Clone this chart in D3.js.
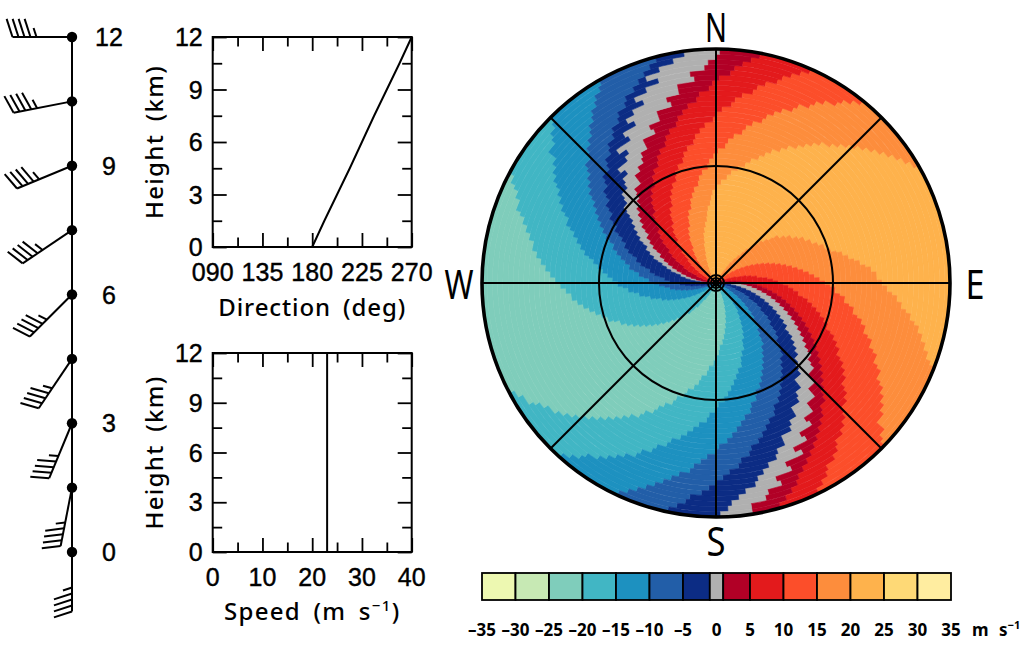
<!DOCTYPE html>
<html><head><meta charset="utf-8">
<script src="https://cdn.jsdelivr.net/npm/d3@7"></script>
<style>html,body{margin:0;padding:0;background:#fff}svg{display:block}text{fill:#000}</style>
</head><body><div id="chart"></div>
<script>
// ---------- profile data ----------
const heightKm = [0, 1.5, 3, 4.5, 6, 7.5, 9, 10.5, 12];
const directionDeg = [180, 191, 202.5, 214, 225, 236, 247.5, 259, 270];
const speedMs = [23, 23, 23, 23, 23, 23, 23, 23, 23];
const heightTicks = [0, 3, 6, 9, 12];
const heightMinor = [1.5, 4.5, 7.5, 10.5];
const dirTicks = [90, 135, 180, 225, 270];
const dirMinor = [112.5, 157.5, 202.5, 247.5];
const speedTicks = [0, 10, 20, 30, 40];
const speedMinor = [5, 15, 25, 35];
// ---------- colour key ----------
const levels = [-35,-30,-25,-20,-15,-10,-5,-1,1,5,10,15,20,25,30,35];
const levelLabels = [-35,-30,-25,-20,-15,-10,-5,0,5,10,15,20,25,30,35];
const levelColors = ["#edf8b1","#c7e9b4","#7fcdbb","#41b6c4","#1d91c0","#225ea8","#0c2c84","#b0b0b0","#b10026","#e31a1c","#fc4e2a","#fd8d3c","#feb24c","#fed976","#ffeda0"];
// ---------- radial velocity: azimuth (deg, clockwise from N) of each isodop, one value per range ring ----------
const edgeGrayN0 = [269,271,273,275,276,278,280,283,284,286,288,290,291,293,295,298,299,301,303,305,307,308,309,312,313,317,318,321,319,324,326,323,329,328,333,331,334,338,336,340,344,341,345,349,352];
const edgeGrayN1 = [273,275,277,279,281,283,285,287,289,291,293,295,298,299,301,303,306,307,309,311,313,316,318,319,323,323,326,329,330,333,333,338,337,341,341,346,345,349,349,354,353,357,358,360,361];
const edgePos5a  = [283,285,287,289,292,293,295,298,299,301,303,306,307,309,311,314,315,317,320,321,323,325,328,329,331,334,335,337,340,341,343,346,347,349,351,354,355,358,359,361,364,365,367,369,371];
const edgePos10a = [296,298,301,302,304,306,308,311,312,314,316,319,320,322,325,326,328,331,332,334,336,339,340,342,345,346,348,351,352,354,356,359,360,362,365,366,368,371,372,374,377,378,380,382,384];
const edgePos15a = [311,313,315,317,320,321,323,325,328,329,331,333,336,337,339,342,343,345,347,350,351,353,356,357,359,361,364,365,367,370,371,373,376,377,379,381,384,385,388,389,391,394,395,397,399];
const edgePos20a = [330,332,334,336,338,340,342,343,345,346,348,350,352,353,354,356,357,358,360,363,366,368,371,374,376,379,381,383,386,388,391,393,395,397,400,402,404,406,408,410,412,414,416,418,420];
const edgePos20b = [389,390,392,394,395,397,399,401,402,404,406,407,409,411,412,415,417,420,422,425,428,430,433,435,436,438,440,441,443,444,446,449,451,453,454,456,458,459,461,462,464,466,468,470,471];
const edgePos15b = [409,411,413,415,417,419,421,423,425,427,429,431,433,435,437,439,441,443,445,447,449,451,452,455,456,459,460,463,464,466,469,470,473,474,477,478,481,482,484,486,488,491,491,493,494];
const edgePos10b = [426,428,430,432,435,436,438,440,443,444,446,448,451,452,454,456,459,460,462,464,466,468,470,473,474,476,478,481,482,484,486,489,490,492,495,496,498,500,503,504,506,509,510,512,514];
const edgePos5b  = [438,440,442,444,446,448,450,452,454,456,458,460,462,464,466,468,470,472,474,476,478,480,482,484,486,488,490,492,494,496,497,500,501,503,505,507,509,511,513,515,517,518,520,522,524];
const edgeGrayS0 = [444,446,448,450,452,454,456,458,460,462,464,466,468,470,472,474,476,478,480,482,484,486,487,490,491,495,495,499,499,503,503,507,506,511,510,515,513,519,518,523,522,526,527,531,531];
const edgeGrayS1 = [451,453,455,457,459,461,463,465,467,469,471,473,475,477,479,481,484,485,487,489,491,494,496,497,501,501,504,505,509,509,512,513,517,517,520,521,524,526,528,529,532,534,536,537,539];
const edgeNeg5a  = [461,464,465,467,470,471,473,476,477,479,482,483,485,488,489,491,494,495,497,500,502,504,506,508,510,512,515,516,519,521,523,525,528,529,532,533,536,538,540,542,544,547,548,550,552];
const edgeNeg10a = [474,476,478,480,482,484,486,488,490,492,494,496,499,501,502,505,507,509,511,513,515,517,520,521,524,525,528,530,532,534,536,539,540,543,545,547,548,551,553,555,557,559,561,563,565];
const edgeNeg15a = [490,493,494,497,499,501,502,505,507,509,511,513,516,517,520,522,523,526,528,530,532,534,536,539,540,543,544,547,549,551,553,556,557,560,561,564,565,568,570,572,574,577,578,580,582];
const edgeNeg20a = [512,514,516,518,520,522,524,526,528,530,532,534,537,538,541,542,545,546,549,550,552,555,556,559,560,563,565,566,569,570,573,575,577,579,581,583,585,587,589,591,594,596,597,600,602];
const edgeNeg20b = [567,569,571,573,576,577,580,581,584,585,588,590,592,594,596,598,600,602,604,606,609,610,613,615,617,619,621,623,626,628,630,632,634,636,638,640,643,645,647,649,650,653,655,656,658];
const edgeNeg15b = [592,594,596,598,600,602,604,606,608,610,612,615,616,619,620,623,624,627,628,631,633,635,637,639,641,642,644,646,648,650,651,654,655,657,659,661,662,664,666,668,668,671,672,674,675];
const edgeNeg10b = [606,608,610,612,614,616,618,620,622,625,627,629,631,634,635,638,639,642,644,646,648,651,652,654,656,658,660,662,664,665,667,669,671,672,675,676,678,680,681,683,684,686,687,689,690];
const edgeNeg5b  = [616,617,619,622,623,625,627,630,631,633,636,637,639,642,643,645,648,649,651,654,656,657,660,661,664,665,668,669,672,673,677,678,681,682,685,686,689,690,693,694,697,699,701,703,705];
const isodops = [edgeGrayN0,edgeGrayN1,edgePos5a,edgePos10a,edgePos15a,edgePos20a,edgePos20b,edgePos15b,edgePos10b,edgePos5b,edgeGrayS0,edgeGrayS1,edgeNeg5a,edgeNeg10a,edgeNeg15a,edgeNeg20a,edgeNeg20b,edgeNeg15b,edgeNeg10b,edgeNeg5b];
// colour index of the sector that starts at each isodop, going clockwise
const sectorColor = [7,8,9,10,11,12,11,10,9,8,7,6,5,4,3,2,3,4,5,6];

const W=1024,H=645;
const svg=d3.select("#chart").append("svg").attr("width",W).attr("height",H).attr("viewBox",`0 0 ${W} ${H}`);
const numFont="'Liberation Sans',sans-serif", titleFont="'Noto Sans',sans-serif";
const numStyle=s=>s.style("font",`25px ${numFont}`).style("stroke","#000").style("stroke-width","0.4px");

// ---------- wind barbs ----------
const yWind=d3.scaleLinear([0,12],[552,37]);
const xWind=72, staff=59.5, spacing=6, fullBarb=19, tilt=72*Math.PI/180;
const gW=svg.append("g").attr("fill","none").attr("stroke","#000").attr("stroke-width",2);
gW.append("line").attr("x1",xWind).attr("x2",xWind).attr("y1",yWind(12)).attr("y2",yWind(0));
heightKm.forEach((h,i)=>{
  const a=directionDeg[i]*Math.PI/180, ux=Math.sin(a), uy=-Math.cos(a);
  const x0=xWind,y0=yWind(h),tx=x0+staff*ux,ty=y0+staff*uy;
  gW.append("line").attr("x1",x0).attr("y1",y0).attr("x2",tx).attr("y2",ty);
  const bx=ux*Math.cos(tilt)-uy*Math.sin(tilt), by=ux*Math.sin(tilt)+uy*Math.cos(tilt);
  const full=Math.floor(speedMs[i]/5), half=(speedMs[i]%5)>=2.5?1:0;
  d3.range(full+half).forEach(k=>{
    const len=k<full?fullBarb:fullBarb/2, sx=tx-ux*k*spacing, sy=ty-uy*k*spacing;
    gW.append("line").attr("x1",sx).attr("y1",sy).attr("x2",sx+bx*len).attr("y2",sy+by*len);
  });
  svg.append("circle").attr("cx",x0).attr("cy",y0).attr("r",5.2).attr("fill","#000");
});
svg.append("g").selectAll("text").data(heightTicks).join("text")
  .attr("x",109).attr("y",d=>yWind(d)+9).attr("text-anchor","middle").call(numStyle).text(d=>d);

// ---------- line panels ----------
function panel(opts){
  const {x,y,xMajor,xMinor,xVals,xFmt,xTitle,titleY,tickY,titleSpacing}=opts;
  const g=svg.append("g");
  const [x0,x1]=x.range(), [y0,y1]=y.range();
  const ax=(gen,tx,ty,size,vals)=>{
    const s=g.append("g").attr("transform",`translate(${tx},${ty})`).call(gen.tickValues(vals).tickSize(size).tickFormat(""));
    s.select(".domain").remove();
    s.selectAll("line").attr("stroke","#000").attr("stroke-width",1.8);
    s.selectAll("text").remove();
  };
  [[xMajor,14],[xMinor,9.5]].forEach(([v,l])=>{
    ax(d3.axisBottom(x),0,y0,-l,v); ax(d3.axisTop(x),0,y1,-l,v);
  });
  [[heightTicks,14],[heightMinor,9.5]].forEach(([v,l])=>{
    ax(d3.axisLeft(y),x0,0,-l,v); ax(d3.axisRight(y),x1,0,-l,v);
  });
  g.append("rect").attr("x",x0).attr("y",y1).attr("width",x1-x0).attr("height",y0-y1).attr("fill","none").attr("stroke","#000").attr("stroke-width",2);
  g.append("path").datum(heightKm).attr("fill","none").attr("stroke","#000").attr("stroke-width",2)
    .attr("d",d3.line().x((d,i)=>x(xVals[i])).y(d=>y(d)));
  g.selectAll(".yl").data(heightTicks).join("text").attr("x",x0-10).attr("y",d=>y(d)+9).attr("text-anchor","end").call(numStyle).text(d=>d);
  g.selectAll(".xl").data(xMajor).join("text").attr("x",d=>x(d)).attr("y",tickY).attr("text-anchor","middle").call(numStyle).text(xFmt);
  g.append("text").attr("transform",`translate(163,${(y0+y1)/2}) rotate(-90)`).attr("text-anchor","middle")
    .style("font",`500 24px ${titleFont}`).style("letter-spacing","1.3px").style("word-spacing","5px").text("Height (km)");
  const t=g.append("text").attr("x",(x0+x1)/2).attr("y",titleY).attr("text-anchor","middle")
    .style("font",`500 24px ${titleFont}`).style("letter-spacing",titleSpacing).style("word-spacing","5px");
  xTitle(t);
}
panel({x:d3.scaleLinear([90,270],[212.7,411.7]),y:d3.scaleLinear([0,12],[247,37]),
  xMajor:dirTicks,xMinor:dirMinor,xVals:directionDeg,xFmt:d=>String(d).padStart(3,"0"),titleSpacing:"0.9px",
  titleY:316,tickY:281,xTitle:t=>t.text("Direction (deg)")});
panel({x:d3.scaleLinear([0,40],[212.7,411.7]),y:d3.scaleLinear([0,12],[552,353]),
  xMajor:speedTicks,xMinor:speedMinor,xVals:speedMs,xFmt:d=>d,titleSpacing:"1.3px",
  titleY:620,tickY:586,xTitle:t=>{t.append("tspan").text("Speed (m s");t.append("tspan").attr("dy",-9).style("font-size","15px").text("\u22121");t.append("tspan").attr("dy",9).text(")");}});

// ---------- polar display ----------
const cx=716,cy=283,R=234;
const nRings=edgeGrayN0.length;
const radius=d3.scaleLinear([0,nRings],[0,R]);
const angle=d3.scaleLinear([0,360],[0,2*Math.PI]);
const gP=svg.append("g").attr("transform",`translate(${cx},${cy})`);
const arc=d3.arc();
const sectors=[];
d3.range(nRings).forEach(ring=>{
  isodops.forEach((edge,k)=>{
    const next=k<isodops.length-1?isodops[k+1][ring]:isodops[0][ring]+360;
    sectors.push({ring,from:edge[ring],to:next,color:levelColors[sectorColor[k]]});
  });
});
gP.append("g").selectAll("path").data(sectors).join("path")
  .attr("d",d=>arc({innerRadius:radius(d.ring),outerRadius:radius(d.ring+1),startAngle:angle(d.from),endAngle:angle(d.to)}))
  .attr("fill",d=>d.color).attr("stroke",d=>d.color).attr("stroke-width",0.6);
const spokes=d3.range(0,360,45);
gP.append("g").selectAll("line").data(spokes).join("line")
  .attr("x2",d=>R*Math.sin(angle(d))).attr("y2",d=>-R*Math.cos(angle(d)))
  .attr("stroke","#000").attr("stroke-width",2);
const rings=[2.5,5,8,117];
gP.append("g").selectAll("circle").data(rings).join("circle").attr("r",d=>d).attr("fill","none").attr("stroke","#000").attr("stroke-width",2);
gP.append("circle").attr("r",R).attr("fill","none").attr("stroke","#000").attr("stroke-width",3.6);
const compass=[["N",716,42,22],["W",459,299,29],["E",975,299,19],["S",716,556,19]];
svg.append("g").selectAll("text").data(compass).join("text")
  .attr("x",d=>d[1]-d[3]/2).attr("y",d=>d[2]).attr("textLength",d=>d[3]).attr("lengthAdjust","spacingAndGlyphs")
  .style("font",`40px 'Noto Sans',sans-serif`).text(d=>d[0]);

// ---------- colour bar ----------
const xBar=d3.scaleLinear([-35,35],[482,951]);
const gB=svg.append("g");
gB.selectAll("rect").data(levelColors).join("rect")
  .attr("x",(d,i)=>xBar(levels[i])).attr("width",(d,i)=>xBar(levels[i+1])-xBar(levels[i]))
  .attr("y",573).attr("height",27).attr("fill",d=>d).attr("stroke","#000").attr("stroke-width",1.8);
gB.selectAll("text").data(levelLabels).join("text").attr("x",d=>xBar(d)).attr("y",636).attr("text-anchor","middle")
  .style("font",`700 17px ${titleFont}`).text(d=>d<0?"\u2013"+Math.abs(d):d);
const u=gB.append("text").attr("x",972).attr("y",636).style("font",`700 17px ${titleFont}`).style("word-spacing","6px");
u.append("tspan").text("m s");u.append("tspan").attr("dy",-7).style("font-size","11px").text("\u22121");
</script></body></html>
